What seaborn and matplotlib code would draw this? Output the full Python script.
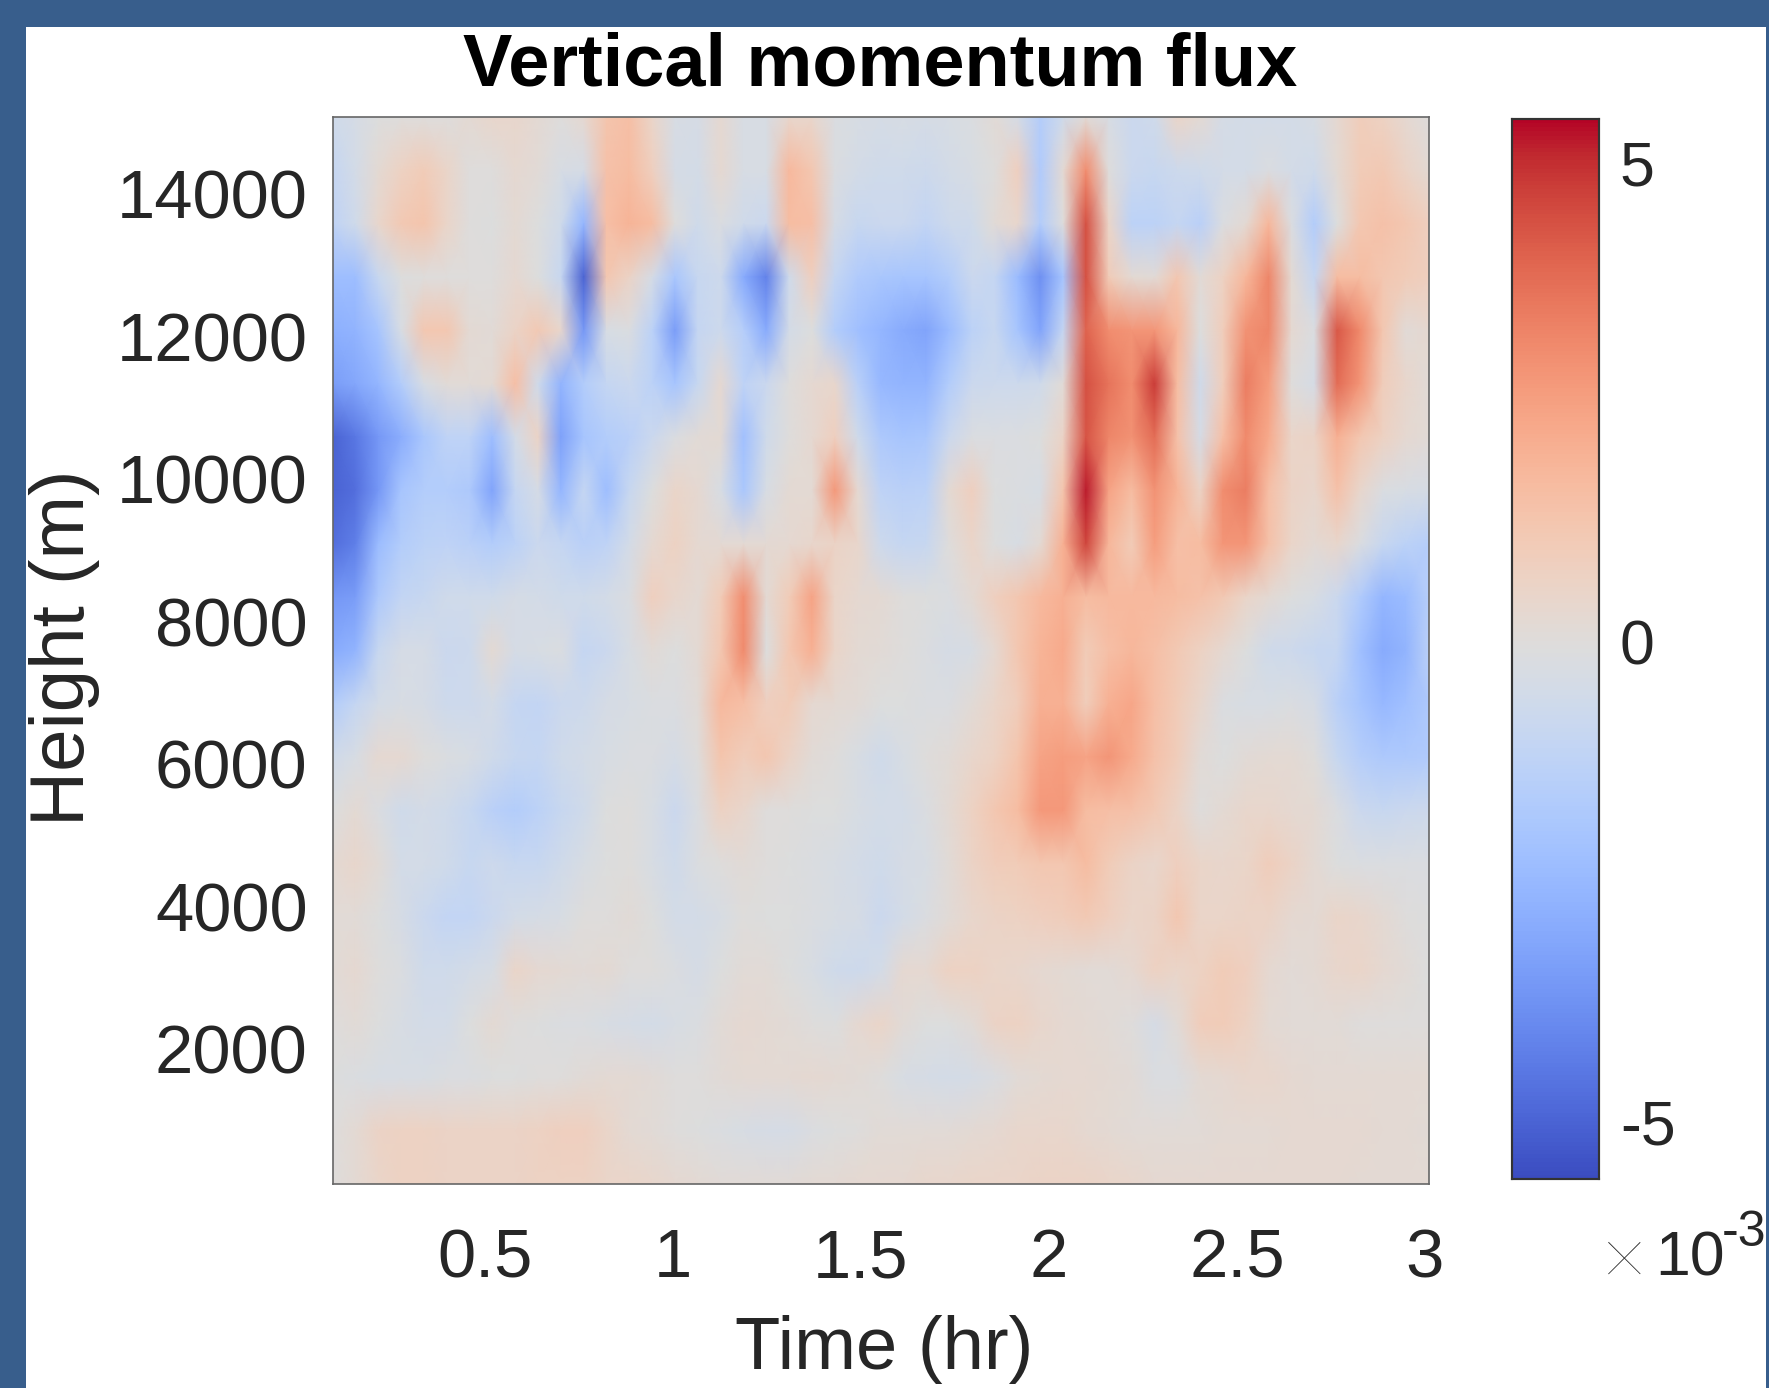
import matplotlib
matplotlib.use("Agg")
import matplotlib.pyplot as plt
from matplotlib.patches import Rectangle
import numpy as np
import pandas as pd
import seaborn as sns

# values in units of 1e-3, one list per height (top to bottom)
row_00 = [-.6,-.4,-.1,0,0,0,.2,.4,.4,.2,0,.3,1.3,1.5,.5,-.3,-.4,.3,-.3,-.3,.4,.4,-.2,-.3,-.4,-.3,-.4,-.3,-.2,.1,-.4,-1.6,-.6,.1,-.3,-.8,-.6,.5,.2,-.4,-.5,-.5,-.5,-.3,.3,.9,.7,.3,0]
row_01 = [-1,-.5,.2,.7,1,.5,0,0,.3,.1,-.3,-.4,1.4,1.6,.8,-.4,-.5,.3,-.3,-.3,1.7,1.2,-.2,-.5,-.6,-.6,-.7,-.5,-.3,0,.8,-1.7,.2,3,0,-.8,-.9,-.7,-.6,-.5,-.5,-.2,-.5,-.6,.2,1,1.1,.6,.2]
row_02 = [-1.2,-.6,.4,1.1,1.3,.5,0,-.1,.2,-.1,-.6,-2.6,1.5,1.9,1.6,0,-.6,-.2,-.6,-.8,1.6,1.5,-.4,-.9,-.8,-.8,-1.1,-.7,-.6,.1,.4,-1.6,0,4.4,.5,-1.3,-1.3,-1,-1.4,-.2,.2,1.8,-.2,-1.6,-.1,1.2,1.4,1.2,.8]
row_03 = [-2.3,-2.3,-.9,-.1,0,0,0,0,.3,-.1,-.9,-5,1.2,.6,-.4,-1.9,-.9,-.7,-3,-4.2,-.6,.8,-1,-1.7,-1.9,-2,-2,-1.6,-.8,-1,-2.4,-3.8,-2,4.4,1,.2,.1,1.2,.1,.7,1.8,3.2,.2,-1,1.6,1.6,1.2,1,.8]
row_04 = [-2.8,-2.7,-2,-.3,1.2,1.2,.2,.1,.6,1.1,.4,-3.6,-.3,-.2,-1.3,-3.4,-1,-.7,-1.5,-3,-.5,-.1,-1.6,-2.2,-2.6,-3,-3.2,-2.4,-1.3,-.9,-2,-3.2,-1,4,3,2.8,2.8,1.8,-.1,.9,2.9,3.2,.3,-.2,4.2,3.1,1.2,.1,.3]
row_05 = [-3.4,-3.1,-2.6,-1.6,-.3,.1,.1,.2,1.5,-.6,-2.7,-1.6,-1,-.8,-1.3,-2,-.9,.3,-1.2,-.8,0,.3,.4,-1.4,-2.5,-2.7,-2.7,-1.6,-.8,-.7,-.7,-.6,.1,4.4,3.6,3,4.8,1.6,-.6,.9,3.4,2.6,0,-.4,3.8,2.8,.9,.4,.1]
row_06 = [-5,-4.5,-3.6,-2.9,-1.9,-1.2,-1.2,-2.3,-.5,.6,-3.3,-2,-1.6,-1.4,-.8,-.2,.1,.2,-2.2,-.6,0,.3,.8,-.6,-1.8,-2,-1.9,-.8,-.2,-.2,-.2,-.1,.6,4.3,3.2,2.9,3.8,1.4,-.4,1.5,3.1,2.2,.5,.6,2,1.2,.7,.3,.1]
row_07 = [-5,-4.7,-3.6,-2,-1.6,-1.6,-1.8,-3.2,-1,-.4,-2.6,-1,-2.3,-.9,-.1,.5,.3,-.3,-1.9,-.3,.2,.2,2.7,.3,-1.2,-1.4,-1.3,.2,.8,-.1,-.2,-.3,1.3,5.2,2.4,1.6,2.9,1.9,.6,3,3.4,1.5,.6,.4,1.4,.4,-.2,-.3,-.4]
row_08 = [-4.7,-4.3,-2.4,-1.6,-1.3,-1.2,-1.4,-1.6,-1.3,-.8,-1,-1.4,-1.2,-.5,.3,.7,.3,.2,.2,.2,.3,.4,.6,.4,-.7,-1,-.9,0,.5,-.1,-.3,.2,2,4.6,1.8,1,2.6,1.5,1.6,2.8,2.8,1.4,.5,.2,.4,-.2,-.9,-1.3,-1.5]
row_09 = [-3.6,-3.4,-1.8,-1.1,-.9,-.6,-.6,-.6,-.4,-.5,-.6,-.6,-.5,-.2,.8,.4,.2,1,3,.2,1,2.4,.5,.3,.2,0,-.1,-.2,.2,.8,1.2,1.7,2,1.6,1.7,1.7,1.7,1.6,1.4,1.1,.5,.2,-.1,-.3,-.8,-1.7,-2.6,-2.4,-1.5]
row_10 = [-3,-2.7,-.9,-.4,-.4,-.8,-.7,.2,-.4,-.3,-.2,-1,-.8,-.3,.1,-.1,.2,1.2,3.1,-.1,1.2,2,.5,.2,.1,0,-.2,-.4,-.3,.3,1.2,1.9,2.2,1,1.5,1.8,1.5,1.1,.7,.3,-.1,-.6,-.7,-.9,-1,-2.2,-3,-2.7,-1.4]
row_11 = [-1.6,-1,-.5,-.3,-.4,-.7,-.7,-.5,-1,-1.1,-.8,-.7,-.4,-.3,-.2,-.2,.1,1.7,1.5,.8,1,.3,.2,.1,-.1,-.1,-.2,-.2,.1,.5,.9,2,2,.9,2,2.3,1.5,1,.4,-.2,-.3,-.3,-.2,-.4,-1.4,-2,-2.5,-2.2,-1.8]
row_12 = [-.6,-.3,.3,.3,0,-.2,-.3,-.6,-.9,-1,-.6,-.5,-.3,-.2,-.2,-.4,0,1.3,.9,1.2,.6,.1,0,-.3,-.6,-.3,0,.1,.4,.7,1.3,2.4,2.6,2.4,2.8,2.2,1.4,.9,.1,-.1,.1,.2,.2,0,-.9,-1.5,-1.8,-1.8,-1.7]
row_13 = [-.1,.2,-.2,-.6,-.5,-.6,-.9,-1.4,-1.6,-1.3,-.9,-.6,-.1,0,-.3,-.8,-.2,.7,.4,0,0,-.1,-.1,-.3,-.5,-.5,-.2,.2,.7,1.2,1.6,2.7,2.7,1.6,1.5,1.4,1.1,.6,0,.2,.4,.4,.3,.2,-.2,-.8,-.9,-.8,-.7]
row_14 = [.2,.4,.1,-.5,-.5,-.6,-.9,-.7,-.9,-.9,-.6,-.3,-.1,0,-.3,-.6,-.2,0,.1,0,-.1,-.2,-.3,-.5,-.6,-.4,-.3,.1,.6,.9,1,1.2,1.2,1.6,1,.6,.4,.8,.5,.4,.5,.9,.6,.2,-.1,-.2,-.2,-.2,-.2]
row_15 = [.1,.1,-.1,-.4,-.8,-1.1,-1.1,-.8,-.5,-.4,-.3,0,0,.1,-.1,-.5,-.5,-.3,0,-.1,-.1,-.2,-.3,-.4,-.8,-.5,-.2,.1,.4,.6,.7,.8,.9,1.1,.8,.5,.6,1.2,.5,.5,.6,.6,.3,.2,.5,.4,.2,0,-.1]
row_16 = [.1,.3,0,-.2,-.6,-.6,-.5,-.3,.5,.3,.2,.1,.2,0,0,-.2,-.4,-.1,.1,.1,-.1,-.3,-.6,-.7,-.5,.3,.3,.7,.7,.5,.4,.3,.2,.1,.1,.3,.7,.5,.7,1,.8,.3,.1,.2,.4,.5,.3,.1,-.1]
row_17 = [0,.1,-.1,-.3,-.5,-.5,-.1,.2,0,-.1,-.2,-.2,-.3,-.4,-.5,-.3,-.2,.1,.3,.2,.1,0,-.1,.3,.5,.1,-.1,-.1,.1,.6,.7,.4,.3,.2,.1,0,-.4,.1,.9,1,.7,.2,.1,.1,.1,0,0,0,0]
row_18 = [-.1,-.2,-.3,-.3,-.3,-.2,-.2,-.1,-.1,0,0,.1,.2,.2,.1,0,0,.1,.2,.2,.2,.3,.2,.1,0,-.3,-.4,-.5,-.4,-.2,.1,.2,.3,.3,.2,.1,-.2,-.2,.2,.3,.4,.4,.3,.2,.2,.2,.2,.2,.2]
row_19 = [0,.2,.6,.7,.7,.6,.6,.6,.6,.7,.8,.8,.5,.2,.1,0,-.1,-.2,-.3,-.4,-.4,-.2,-.1,0,.1,.1,.1,.1,.2,.3,.4,.4,.4,.3,.2,.1,.1,.1,.1,.2,.2,.2,.3,.3,.3,.3,.2,.2,.1]
row_20 = [0,.2,.5,.7,.7,.6,.6,.6,.6,.7,.7,.7,.5,.5,.4,.3,.2,.1,.1,.1,.1,.2,.2,.3,.3,.3,.4,.4,.5,.5,.5,.6,.6,.6,.5,.4,.3,.3,.3,.3,.3,.3,.3,.3,.3,.2,.2,.2,.2]

flux = pd.DataFrame([row_00, row_01, row_02, row_03, row_04, row_05, row_06,
                     row_07, row_08, row_09, row_10, row_11, row_12, row_13,
                     row_14, row_15, row_16, row_17, row_18, row_19, row_20])

time_hr = np.linspace(0.094, 3.01, flux.shape[1])
height_m = np.linspace(15080, 105, flux.shape[0])

time_ticks = [0.5, 1, 1.5, 2, 2.5, 3]
time_labels = ["0.5", "1", "1.5", "2", "2.5", "3"]
height_ticks = [2000, 4000, 6000, 8000, 10000, 12000, 14000]
cbar_ticks = [-5, 0, 5]
cbar_labels = ["-5", "0", "5"]

TEXT = "#262626"
FRAME = "#385e8c"
W, H = 1769, 1388

sns.set_theme(style="white")
plt.rcParams["font.family"] = ["Liberation Sans", "DejaVu Sans"]

fig = plt.figure(figsize=(W / 100, H / 100), dpi=100, facecolor="white")
ax = fig.add_axes([332.5 / W, 1 - 1184 / H, 1096 / W, 1067 / H])
cax = fig.add_axes([1512 / W, 1 - 1179 / H, 87 / W, 1060 / H])

sns.heatmap(flux, ax=ax, cbar_ax=cax, cmap="coolwarm", vmin=-5.6, vmax=5.45,
            xticklabels=False, yticklabels=False, shading="gouraud")
ax.set_xlim(0, flux.shape[1] - 1)
ax.set_ylim(flux.shape[0] - 1, 0)

ax.set_xticks(np.interp(time_ticks, time_hr, np.arange(len(time_hr))))
ax.set_xticklabels(time_labels)
ax.set_yticks(np.interp(height_ticks, height_m[::-1], np.arange(len(height_m))[::-1]))
ax.set_yticklabels([str(h) for h in height_ticks])
ax.tick_params(axis="both", length=0, labelsize=49.5, labelcolor=TEXT)
ax.tick_params(axis="x", pad=31)
ax.tick_params(axis="y", pad=18)
ax.set_xlabel("Time (hr)", fontsize=53.5, color=TEXT, labelpad=17)
ax.xaxis.label.set_x(0.503)
ax.set_ylabel("Height (m)", fontsize=55, color=TEXT, labelpad=12)
ax.yaxis.label.set_y(0.503)
ax.set_title("Vertical momentum flux", fontsize=53.3, fontweight="bold", color="black", pad=23)
for s in ax.spines.values():
    s.set_visible(True)
    s.set_color("#666666")
    s.set_linewidth(1.2)

cax.set_yticks(cbar_ticks)
cax.set_yticklabels(cbar_labels)
cax.tick_params(axis="y", direction="in", right=True, length=9, width=1.2, color="#262626",
                labelsize=45, labelcolor=TEXT, pad=15)
for s in cax.spines.values():
    s.set_visible(True)
    s.set_color("#333333")
    s.set_linewidth(1.5)

fig.text(1601 / W, 1 - 1285 / H, "×", fontsize=58, color=TEXT, family="Lato", fontweight="light")
fig.text(1655 / W, 1 - 1275 / H, "10", fontsize=45, color=TEXT)
fig.text(1722 / W, 1 - 1246 / H, "-3", fontsize=36, color=TEXT)

# blue slide background around the white picture
for x, y, w, h in [(0, 0, 26, H), (0, 0, W, 27), (1766, 0, 3, H)]:
    fig.add_artist(Rectangle((x / W, 1 - (y + h) / H), w / W, h / H, transform=fig.transFigure,
                             facecolor=FRAME, edgecolor="none", zorder=5))

fig.savefig("out.png", dpi=100)
plt.close(fig)
